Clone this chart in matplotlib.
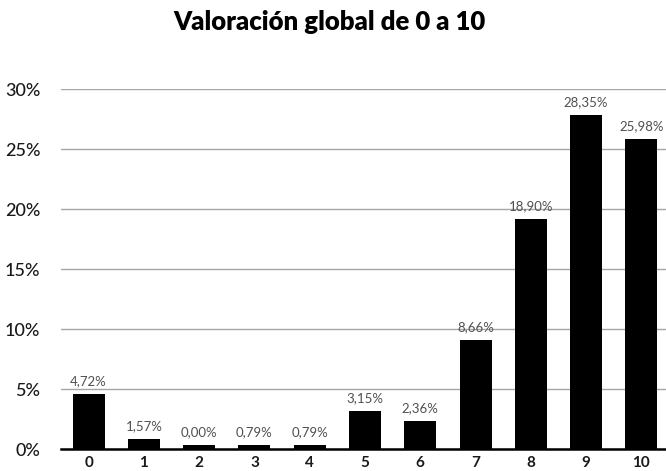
import matplotlib
matplotlib.use("Agg")
import matplotlib.pyplot as plt

categorias = ["0", "1", "2", "3", "4", "5", "6", "7", "8", "9", "10"]
etiquetas = ["4,72%", "1,57%", "0,00%", "0,79%", "0,79%", "3,15%", "2,36%",
             "8,66%", "18,90%", "28,35%", "25,98%"]
alturas = [4.6, 0.83, 0.33, 0.33, 0.33, 3.17, 2.33, 9.08, 19.17, 27.83, 25.83]
yticks = [0, 5, 10, 15, 20, 25, 30]
titulo = "Valoración global de 0 a 10"

plt.rcParams['font.family'] = ['Lato', 'DejaVu Sans']

fig = plt.figure(figsize=(6.66, 4.71), dpi=100)
ax = fig.add_axes([61/666, 22/471, 608/666, 360/471])

x = list(range(len(categorias)))
bars = ax.bar(x, alturas, width=0.58, color="black", zorder=3)
for xi, h, lab in zip(x, alturas, etiquetas):
    ax.annotate(lab, (xi, h), xytext=(0, 5), textcoords="offset points",
                ha="center", va="bottom", fontsize=9.5, color="#505050",
                fontweight="normal")

ax.set_xlim(-0.5, len(categorias) - 0.5)
ax.set_ylim(0, 30)
ax.set_yticks(yticks)
ax.set_yticklabels([f"{t}%" for t in yticks], fontsize=13, color="#1a1a1a",
                   fontweight="medium")
ax.set_xticks(x)
ax.set_xticklabels(categorias, fontsize=11, fontweight="bold", color="#1a1a1a")
ax.tick_params(axis="both", length=0)
ax.tick_params(axis="y", pad=15)
ax.tick_params(axis="x", pad=5)
ax.grid(axis="y", color="#a6a6a6", linewidth=1, zorder=0)
for s in ["top", "right", "left"]:
    ax.spines[s].set_visible(False)
ax.spines["bottom"].set_color("black")
ax.spines["bottom"].set_linewidth(1.8)
ax.spines["bottom"].set_zorder(4)

fig.text(329/666, 1 - 22/471, titulo, ha="center", va="center",
         fontsize=18.5, fontweight="heavy", color="black")

fig.savefig("out.png", dpi=100)
